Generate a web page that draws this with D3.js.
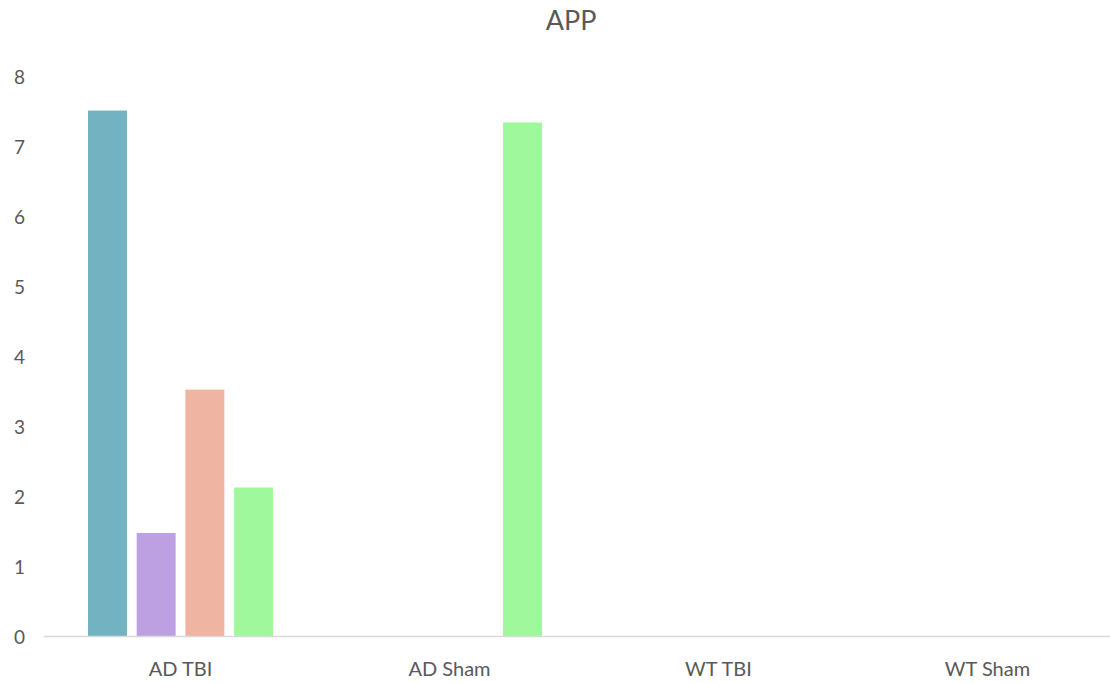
<!DOCTYPE html>
<html><head><meta charset="utf-8">
<script src="https://cdn.jsdelivr.net/npm/d3@7"></script>
<style>body{margin:0;background:#fff}svg{display:block}text{font-family:Lato,"Open Sans",sans-serif;fill:#595959}</style>
</head><body><svg id="c" width="1110" height="683"></svg>
<script>
const title = "APP";
const categories = ["AD TBI", "AD Sham", "WT TBI", "WT Sham"];
const series = ["S1", "S2", "S3", "S4"];
const s1 = [7.52, 0, 0, 0];
const s2 = [1.48, 0, 0, 0];
const s3 = [3.53, 0, 0, 0];
const s4 = [2.13, 7.35, 0, 0];
const colors = ["#72B2C1", "#BDA0E1", "#F0B4A2", "#A0F89C"];
const yTicks = [0, 1, 2, 3, 4, 5, 6, 7, 8];

const values = [s1, s2, s3, s4];
const svg = d3.select("#c");
const x0 = d3.scaleBand().domain(categories).range([46, 1122]);
const x1 = d3.scaleBand().domain(series).range([42, 227]).paddingInner(0.2);
const y = d3.scaleLinear().domain([0, 8]).range([636.5, 77]);

svg.append("text").attr("x", 571).attr("y", 30).attr("text-anchor", "middle")
  .style("font-size", "27px").text(title);

const yAxis = svg.append("g").attr("transform", "translate(25,0)")
  .call(d3.axisLeft(y).tickValues(yTicks).tickSize(0).tickPadding(0));
yAxis.select(".domain").remove();
yAxis.selectAll("text").style("font-size", "19px").attr("dy", "0.36em").attr("fill", "#595959");

const g = svg.append("g");
categories.forEach((c, ci) => {
  series.forEach((s, si) => {
    const v = values[si][ci];
    g.append("rect")
      .attr("x", x0(c) + x1(s))
      .attr("width", x1.bandwidth())
      .attr("y", y(v))
      .attr("height", Math.max(0, y(0) - y(v)))
      .attr("fill", colors[si]);
  });
});

svg.append("line").attr("x1", 44).attr("x2", 1110).attr("y1", 636.5).attr("y2", 636.5)
  .attr("stroke", "#D9D9D9").attr("stroke-width", 1.5);

const xAxis = svg.append("g").attr("transform", "translate(0,636.5)")
  .call(d3.axisBottom(x0).tickSize(0).tickPadding(0));
xAxis.select(".domain").remove();
xAxis.selectAll("text").style("font-size", "20px").attr("fill", "#595959")
  .attr("x", 0).attr("dy", null).attr("y", 39);
xAxis.selectAll(".tick").attr("transform", d => `translate(${x0(d) + 134 + 0.5},0)`);
</script></body></html>
